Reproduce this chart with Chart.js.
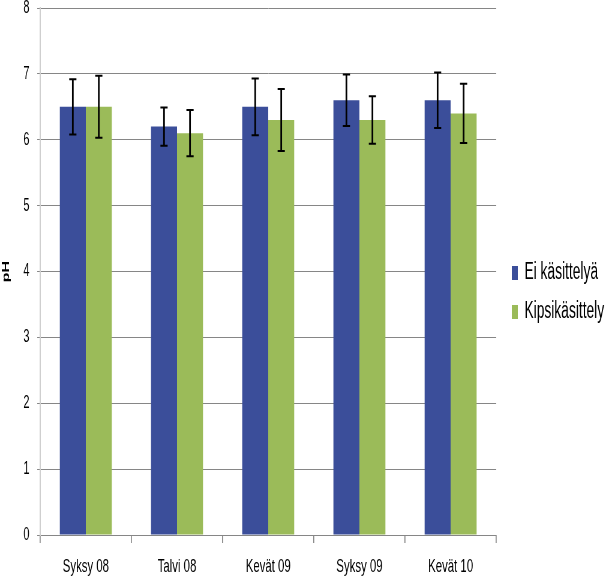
<!DOCTYPE html>
<html>
<head>
<meta charset="utf-8">
<script src="https://cdn.jsdelivr.net/npm/chart.js@4"></script>
<style>
  html, body { margin: 0; padding: 0; background: #fff; overflow: hidden; }
  #wrap { width: 609px; height: 577px; }
  /* the reference is a horizontally squeezed picture: draw wide, show narrow */
  #myChart { display: block; width: 609px; height: 577px; }
</style>
</head>
<body>
<div id="wrap"><canvas id="myChart" width="1015" height="577" style="width:609px;height:577px"></canvas></div>
<script>
// data
const categories = ["Syksy 08", "Talvi 08", "Kevät 09", "Syksy 09", "Kevät 10"];
const seriesNames = ["Ei käsittelyä", "Kipsikäsittely"];
const eiValues = [6.5, 6.2, 6.5, 6.6, 6.6];
const kipsiValues = [6.5, 6.1, 6.3, 6.3, 6.4];
const eiErrors = [0.42, 0.29, 0.43, 0.39, 0.42];
const kipsiErrors = [0.47, 0.35, 0.47, 0.36, 0.45];
const yTicks = [0, 1, 2, 3, 4, 5, 6, 7, 8];
const colors = ["#3B4E9A", "#9BBB59"];

const FONT = "'Liberation Sans', Arial, sans-serif";

// error bars, placed with the chart's own y scale
const errorBars = {
    id: "errorBars",
    afterDatasetsDraw(chart) {
        const ctx = chart.ctx;
        const y = chart.scales.y;
        chart.data.datasets.forEach(function (ds, i) {
            const meta = chart.getDatasetMeta(i);
            meta.data.forEach(function (bar, j) {
                const v = ds.data[j];
                const e = ds.errors[j];
                const top = y.getPixelForValue(v + e);
                const bot = y.getPixelForValue(v - e);
                ctx.save();
                ctx.strokeStyle = "#000";
                ctx.lineWidth = 2.8;
                ctx.beginPath();
                ctx.moveTo(bar.x, top);
                ctx.lineTo(bar.x, bot);
                ctx.stroke();
                ctx.lineWidth = 2;
                ctx.beginPath();
                ctx.moveTo(bar.x - 6, top);
                ctx.lineTo(bar.x + 6, top);
                ctx.moveTo(bar.x - 6, bot);
                ctx.lineTo(bar.x + 6, bot);
                ctx.stroke();
                ctx.restore();
            });
        });
    }
};

// legend to the right of the plot
const sideLegend = {
    id: "sideLegend",
    afterDraw(chart) {
        const ctx = chart.ctx;
        const area = chart.chartArea;
        ctx.save();
        ctx.font = "23px " + FONT;
        ctx.textBaseline = "middle";
        chart.data.datasets.forEach(function (ds, i) {
            const cy = 273 + i * 39;
            ctx.fillStyle = ds.backgroundColor;
            ctx.fillRect(area.right + 26, cy - 7, 10, 14);
            ctx.fillStyle = "#000";
            ctx.fillText(ds.label, area.right + 47, cy);
        });
        ctx.restore();
    }
};

window.addEventListener("load", function () {
    const ctx = document.getElementById("myChart").getContext("2d");

    new Chart(ctx, {
        type: "bar",
        data: {
            labels: categories,
            datasets: [{
                label: seriesNames[0],
                data: eiValues,
                errors: eiErrors,
                backgroundColor: colors[0]
            }, {
                label: seriesNames[1],
                data: kipsiValues,
                errors: kipsiErrors,
                backgroundColor: colors[1]
            }]
        },
        options: {
            responsive: false,
            animation: false,
            devicePixelRatio: 1,
            categoryPercentage: 0.57,
            barPercentage: 1,
            layout: { padding: { top: 0, right: 188, bottom: 0, left: 1 } },
            plugins: {
                tooltip: { enabled: false },
                legend: { display: false }
            },
            scales: {
                x: {
                    grid: {
                        offset: true,
                        drawOnChartArea: false,
                        tickLength: 8,
                        lineWidth: 1.7,
                        color: "#868686"
                    },
                    border: { color: "#868686", width: 1 },
                    ticks: {
                        color: "#000",
                        padding: 12,
                        font: { family: FONT, size: 19 }
                    },
                    afterFit: function (axis) {
                        axis.height = 42;
                    }
                },
                y: {
                    min: 0,
                    max: 8,
                    afterBuildTicks: function (axis) {
                        axis.ticks = yTicks.map(function (v) { return { value: v }; });
                    },
                    grid: { color: "#868686", tickLength: 5 },
                    border: { color: "#cfcfcf", width: 2 },
                    title: {
                        display: true,
                        text: "pH",
                        color: "#000",
                        padding: { top: 0, bottom: 19 },
                        font: { family: FONT, size: 16, weight: "bold" }
                    },
                    ticks: {
                        color: "#000",
                        padding: 13,
                        font: { family: FONT, size: 18 }
                    },
                    afterFit: function (axis) {
                        axis.width = 66;
                        axis.paddingTop = 8;
                        axis.paddingBottom = 0;
                    }
                }
            }
        },
        plugins: [errorBars, sideLegend]
    });
});
</script>
</body>
</html>
